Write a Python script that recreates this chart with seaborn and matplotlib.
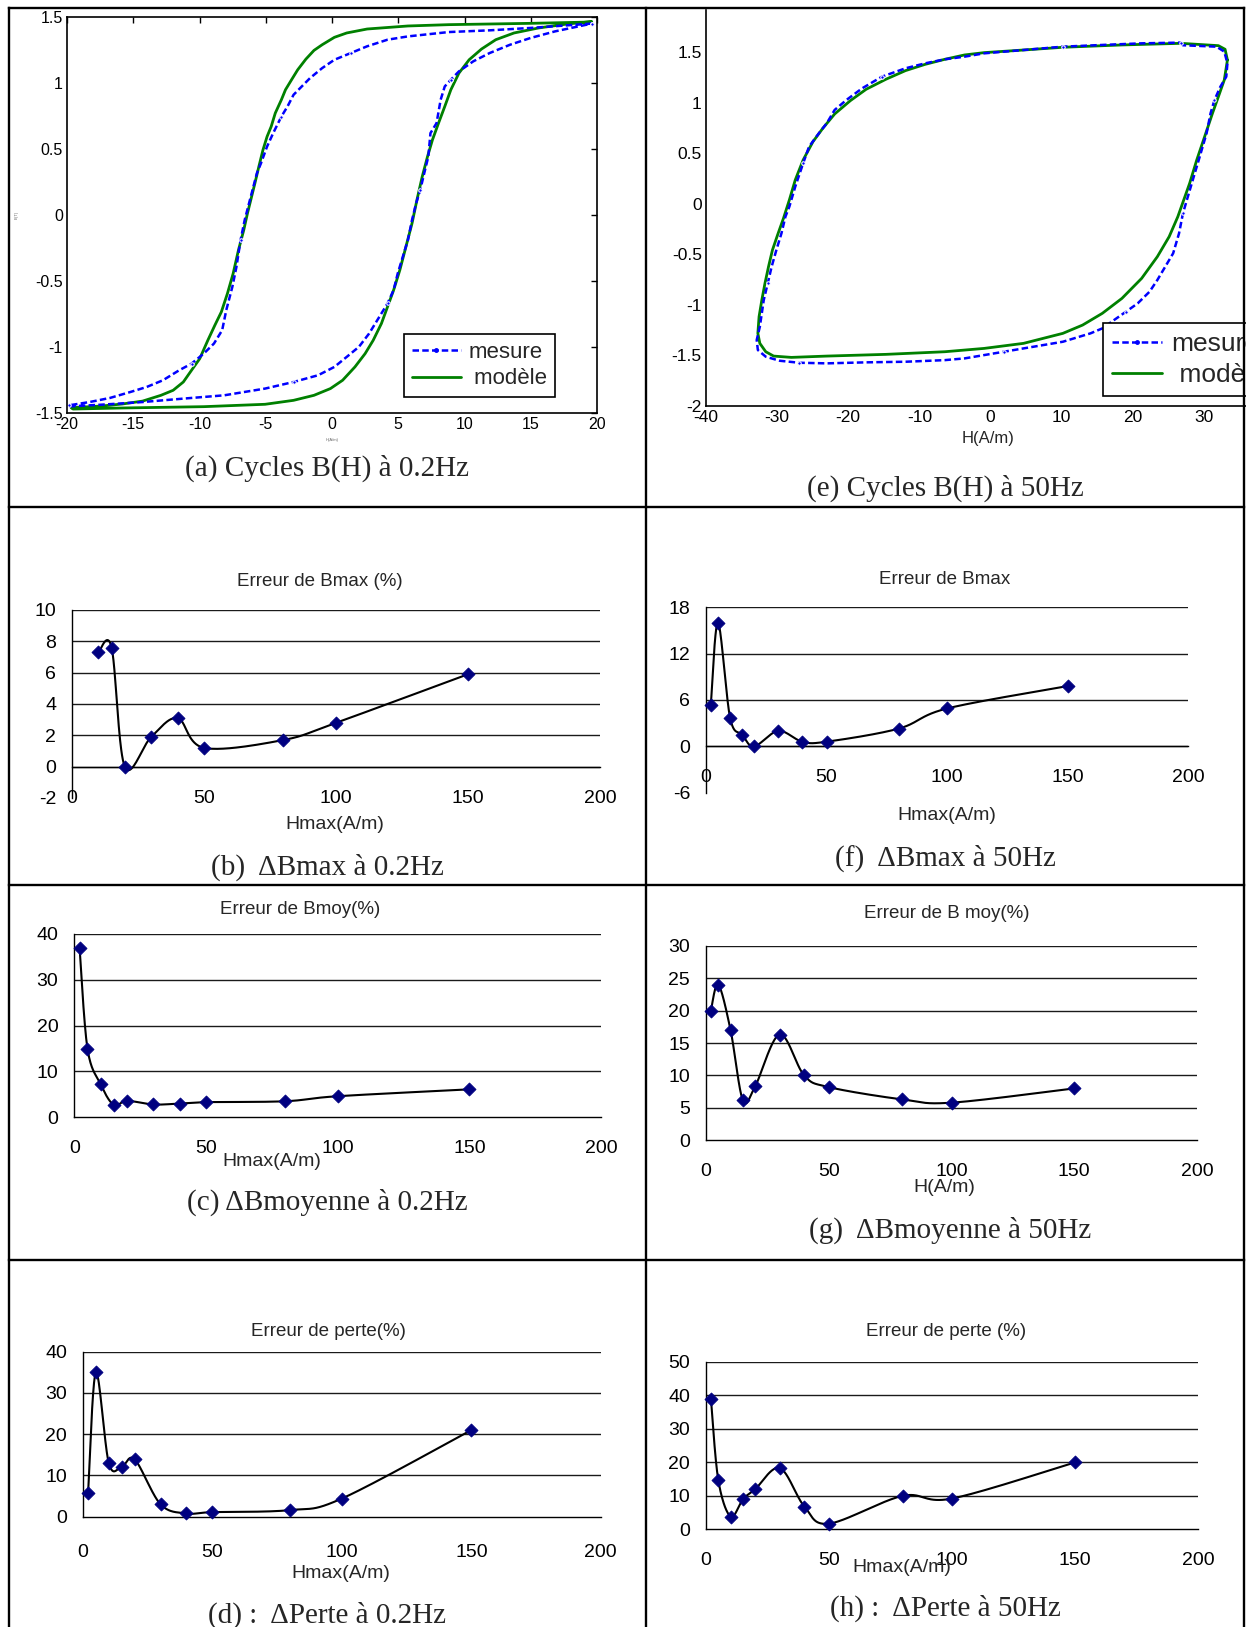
import numpy as np
import matplotlib
matplotlib.use("Agg")
import matplotlib.pyplot as plt
from matplotlib.lines import Line2D
import seaborn as sns

sns.set_style("white")
plt.rcParams["font.family"] = ["Liberation Sans", "DejaVu Sans"]
plt.rcParams["axes.unicode_minus"] = False

# ---------------------------------------------------------------- data
# (a) B(H) loops at 0.2 Hz : model (green) and measurement (blue)
A_MODEL_DESC_H = [19.60, 14.98, 8.81, 5.73, 2.65, 1.11, 0.18, -0.74, -1.36, -1.97, -2.59, -3.05,
                  -3.51, -3.82, -4.28, -4.59, -4.90, -5.21, -5.52, -5.82, -6.13, -6.38, -6.66,
                  -7.06, -7.46, -7.89, -8.35, -8.84, -9.37, -9.98, -10.60, -11.22, -11.99,
                  -12.91, -14.30, -15.84, -17.38, -19.69]
A_MODEL_DESC_B = [1.462, 1.452, 1.442, 1.432, 1.409, 1.379, 1.346, 1.290, 1.247, 1.181, 1.100,
                  1.025, 0.949, 0.873, 0.772, 0.670, 0.594, 0.493, 0.367, 0.240, 0.114, 0.013,
                  -0.114, -0.266, -0.443, -0.594, -0.734, -0.835, -0.949, -1.088, -1.176,
                  -1.265, -1.328, -1.366, -1.410, -1.432, -1.447, -1.460]
A_MODEL_ASC_H = [-19.54, -15.84, -9.68, -5.05, -2.90, -1.36, -0.12, 0.80, 1.73, 2.50, 3.11, 3.73,
                 4.19, 4.65, 5.12, 5.58, 6.04, 6.41, 6.81, 7.21, 7.58, 8.04, 8.51, 8.97, 9.58,
                 10.35, 11.28, 12.36, 13.74, 15.59, 17.75, 19.60]
A_MODEL_ASC_B = [-1.470, -1.462, -1.452, -1.434, -1.404, -1.366, -1.315, -1.252, -1.151, -1.050,
                 -0.949, -0.822, -0.696, -0.569, -0.417, -0.240, -0.063, 0.114, 0.291, 0.443,
                 0.569, 0.696, 0.822, 0.949, 1.075, 1.176, 1.257, 1.328, 1.379, 1.417, 1.447,
                 1.465]
A_MEAS_DESC_H = [19.60, 14.98, 11.90, 8.81, 5.73, 4.19, 2.65, 1.42, 0.18, -0.74, -1.66, -2.28,
                 -2.90, -3.36, -3.82, -4.44, -4.90, -5.36, -5.67, -6.13, -6.59, -6.90, -7.21,
                 -7.52, -7.98, -8.29, -8.91, -9.68, -10.60, -11.53, -12.76, -13.99, -15.22,
                 -16.76, -18.30, -19.85]
A_MEAS_DESC_B = [1.450, 1.417, 1.399, 1.386, 1.353, 1.328, 1.278, 1.227, 1.176, 1.113, 1.037,
                 0.974, 0.911, 0.822, 0.746, 0.620, 0.519, 0.392, 0.316, 0.139, -0.038, -0.190,
                 -0.392, -0.544, -0.721, -0.873, -0.974, -1.050, -1.126, -1.176, -1.252,
                 -1.303, -1.341, -1.386, -1.417, -1.442]
A_MEAS_ASC_H = [-19.85, -17.38, -14.30, -11.22, -8.14, -5.05, -2.90, -1.05, 0.18, 1.11, 2.03,
                2.80, 3.57, 4.19, 4.65, 4.96, 5.42, 5.73, 6.04, 6.35, 6.66, 6.96, 7.27, 7.43,
                7.89, 8.20, 8.51, 8.97, 9.58, 10.66, 11.90, 13.44, 14.98, 16.83, 19.60]
A_MEAS_ASC_B = [-1.450, -1.437, -1.417, -1.391, -1.366, -1.315, -1.265, -1.214, -1.151, -1.075,
                -0.999, -0.898, -0.772, -0.670, -0.569, -0.443, -0.291, -0.190, -0.038, 0.089,
                0.190, 0.316, 0.443, 0.620, 0.696, 0.873, 0.974, 1.025, 1.088, 1.164, 1.227,
                1.290, 1.341, 1.391, 1.450]

# (e) B(H) loops at 50 Hz
E_MODEL_H = [33.31, 32.98, 32.04, 26.78, 18.48, 10.18, 4.65, -0.89, -3.65, -6.42, -9.19, -11.95,
             -14.72, -17.49, -19.70, -21.91, -23.58, -24.96, -26.34, -27.45, -28.28, -29.11,
             -29.94, -30.66, -31.21, -31.71, -32.15, -32.54, -32.71, -32.43, -31.60, -30.49,
             -28.00, -23.02, -14.72, -6.42, -0.89, 4.65, 10.18, 12.95, 15.72, 18.48, 21.25,
             23.46, 25.12, 26.34, 27.17, 28.00, 29.00, 30.11, 31.21, 32.21, 32.87, 33.31]
E_MODEL_B = [1.424, 1.530, 1.566, 1.589, 1.573, 1.550, 1.523, 1.497, 1.474, 1.431, 1.381, 1.319,
             1.233, 1.134, 1.022, 0.890, 0.748, 0.616, 0.435, 0.237, 0.039, -0.143, -0.308,
             -0.457, -0.621, -0.786, -0.951, -1.116, -1.281, -1.380, -1.463, -1.506, -1.519,
             -1.506, -1.489, -1.463, -1.430, -1.380, -1.281, -1.199, -1.083, -0.935, -0.737,
             -0.522, -0.324, -0.126, 0.039, 0.204, 0.435, 0.666, 0.897, 1.095, 1.227, 1.424]
E_MEAS_H = [26.78, 27.06, 31.77, 32.87, 33.31, 33.15, 32.32, 31.49, 30.94, 30.38, 29.83, 29.28,
            28.44, 27.61, 27.06, 26.51, 25.68, 24.57, 23.46, 22.36, 20.70, 19.04, 17.38, 15.72,
            14.06, 10.18, 7.42, 4.65, 1.88, -0.89, -3.65, -6.42, -11.95, -17.49, -23.02,
            -26.90, -29.66, -31.60, -32.71, -32.87, -32.43, -31.88, -31.32, -30.77, -30.11,
            -29.39, -28.83, -28.28, -27.45, -26.34, -25.51, -24.13, -23.02, -21.91, -20.25,
            -18.04, -15.27, -11.95, -9.19, -6.42, -3.65, -0.89, 4.65, 10.18, 15.72, 21.25, 26.78]
E_MEAS_B = [1.596, 1.570, 1.556, 1.507, 1.391, 1.259, 1.160, 1.028, 0.897, 0.699, 0.567, 0.435,
            0.237, 0.039, -0.093, -0.291, -0.489, -0.621, -0.753, -0.869, -0.984, -1.067,
            -1.149, -1.232, -1.281, -1.364, -1.397, -1.430, -1.463, -1.496, -1.529, -1.546,
            -1.562, -1.568, -1.578, -1.572, -1.552, -1.512, -1.446, -1.347, -1.215, -0.951,
            -0.786, -0.621, -0.457, -0.291, -0.126, -0.027, 0.171, 0.402, 0.567, 0.699, 0.798,
            0.930, 1.029, 1.144, 1.259, 1.342, 1.391, 1.431, 1.457, 1.490, 1.523, 1.556, 1.573,
            1.589, 1.596]

A_XTICKS = [-20, -15, -10, -5, 0, 5, 10, 15, 20]
A_YTICKS = [-1.5, -1, -0.5, 0, 0.5, 1, 1.5]
A_YTICKLABELS = ["-1.5", "-1", "-0.5", "0", "0.5", "1", "1.5"]
E_XTICKS = [-40, -30, -20, -10, 0, 10, 20, 30, 40]
E_YTICKS = [-2, -1.5, -1, -0.5, 0, 0.5, 1, 1.5]
E_YTICKLABELS = ["-2", "-1.5", "-1", "-0.5", "0", "0.5", "1", "1.5"]

# error curves versus Hmax
H_B = [10, 15, 20, 30, 40, 50, 80, 100, 150]
ERR_B = [7.3, 7.6, 0.0, 1.9, 3.1, 1.2, 1.7, 2.8, 5.9]
H_F = [2, 5, 10, 15, 20, 30, 40, 50, 80, 100, 150]
ERR_F = [5.4, 16.0, 3.7, 1.5, 0.0, 2.0, 0.6, 0.6, 2.3, 4.9, 7.8]
H_C = [2, 5, 10, 15, 20, 30, 40, 50, 80, 100, 150]
ERR_C = [37.0, 15.0, 7.2, 2.7, 3.6, 2.8, 3.0, 3.3, 3.5, 4.6, 6.1]
H_G = [2, 5, 10, 15, 20, 30, 40, 50, 80, 100, 150]
ERR_G = [20.0, 24.0, 17.0, 6.2, 8.3, 16.3, 10.0, 8.2, 6.3, 5.8, 8.0]
H_D = [2, 5, 10, 15, 20, 30, 40, 50, 80, 100, 150]
ERR_D = [5.8, 35.0, 13.0, 12.1, 13.9, 3.0, 0.8, 1.1, 1.6, 4.4, 21.0]
H_H = [2, 5, 10, 15, 20, 30, 40, 50, 80, 100, 150]
ERR_H = [39.0, 14.7, 3.8, 9.0, 12.0, 18.3, 6.8, 1.7, 10.0, 9.2, 20.0]
ERR_XTICKS = [0, 50, 100, 150, 200]

# ---------------------------------------------------------------- layout helpers
W, H = 1246, 1627
fig = plt.figure(figsize=(W / 100, H / 100), dpi=100)
fig.patch.set_facecolor("white")


def box(l, t, r, b):
    return [l / W, 1 - b / H, (r - l) / W, (b - t) / H]


def ftext(x, y, s, **kw):
    fig.text(x / W, 1 - y / H, s, ha="center", va="center", **kw)


SERIF = ["Liberation Serif", "DejaVu Serif"]
BLUE = "#0000FF"
GREEN = "#008000"
NAVY = "#000080"
MEAS_STYLE = dict(color=BLUE, linewidth=1.8, linestyle=(0, (2.6, 1.3)), marker=".",
                  markersize=5, markevery=7)
MODEL_STYLE = dict(color=GREEN, linewidth=2.0)


def smooth(x, y, n=40):
    """Bezier smoothing through every point (spreadsheet 'smoothed line')."""
    p = np.column_stack([x, y]).astype(float)
    p = np.vstack([p[0], p, p[-1]])
    t = np.linspace(0, 1, n)[:, None]
    parts = []
    for i in range(1, len(p) - 2):
        p0, p1, p2, p3 = p[i - 1], p[i], p[i + 1], p[i + 2]
        c1 = p1 + (p2 - p0) / 6
        c2 = p2 - (p3 - p1) / 6
        seg = (1 - t) ** 3 * p1 + 3 * (1 - t) ** 2 * t * c1 + 3 * (1 - t) * t ** 2 * c2 + t ** 3 * p2
        parts.append(seg if i == 1 else seg[1:])
    s = np.vstack(parts)
    return s[:, 0], s[:, 1]


def legend(ax, x, y, size, hlen):
    handles = [Line2D([], [], **MEAS_STYLE), Line2D([], [], **MODEL_STYLE)]
    leg = ax.legend(handles, ["mesure", " modèle"], loc="upper left",
                    bbox_to_anchor=(x / W, 1 - y / H), bbox_transform=fig.transFigure,
                    fontsize=size, frameon=True, fancybox=False, framealpha=1,
                    edgecolor="black", handlelength=hlen, handletextpad=0.35,
                    borderpad=0.35, labelspacing=0.25, borderaxespad=0, numpoints=1)
    leg.get_frame().set_linewidth(1.2)


# ---------------------------------------------------------------- (a) loops at 0.2 Hz
ax = fig.add_axes(box(67, 17, 597, 413))
sns.lineplot(x=A_MODEL_DESC_H + A_MODEL_ASC_H, y=A_MODEL_DESC_B + A_MODEL_ASC_B,
             sort=False, estimator=None, ax=ax, **MODEL_STYLE)
sns.lineplot(x=A_MEAS_DESC_H + A_MEAS_ASC_H, y=A_MEAS_DESC_B + A_MEAS_ASC_B,
             sort=False, estimator=None, ax=ax, **MEAS_STYLE)
ax.set_xlim(-20, 20)
ax.set_ylim(-1.5, 1.5)
ax.set_xticks(A_XTICKS)
ax.set_xticklabels([str(v) for v in A_XTICKS])
ax.set_yticks(A_YTICKS)
ax.set_yticklabels(A_YTICKLABELS)
ax.tick_params(direction="in", top=True, right=True, length=4, width=1,
               labelsize=11.5, pad=3, colors="black")
for sp in ax.spines.values():
    sp.set_linewidth(1.2)
    sp.set_color("black")
ax.set_xlabel("H(A/m)", fontsize=3, color="0.4", labelpad=4)
ax.set_ylabel("B(T)", fontsize=3, color="0.4", labelpad=12)
legend(ax, 404, 334, 16, 2.2)
ftext(327, 468, "(a) Cycles B(H) à 0.2Hz", fontsize=21, family=SERIF)

# ---------------------------------------------------------------- (e) loops at 50 Hz
ax = fig.add_axes(box(706, 1.8, 1275, 406))
sns.lineplot(x=E_MODEL_H, y=E_MODEL_B, sort=False, estimator=None, ax=ax, **MODEL_STYLE)
sns.lineplot(x=E_MEAS_H, y=E_MEAS_B, sort=False, estimator=None, ax=ax, **MEAS_STYLE)
ax.set_xlim(-40, 40)
ax.set_ylim(-2, 2)
ax.set_xticks(E_XTICKS)
ax.set_xticklabels([str(v) for v in E_XTICKS])
ax.set_yticks(E_YTICKS)
ax.set_yticklabels(E_YTICKLABELS)
ax.tick_params(direction="in", length=4, width=1, labelsize=12.5, pad=3, colors="black")
ax.spines["top"].set_visible(False)
ax.spines["right"].set_visible(False)
for sp in ("left", "bottom"):
    ax.spines[sp].set_linewidth(1.2)
    ax.spines[sp].set_color("black")
ax.spines["left"].set_bounds(-2, 1.92)
legend(ax, 1103, 323, 19, 1.9)
ftext(988, 439, "H(A/m)", fontsize=12)
ftext(945, 488, "(e) Cycles B(H) à 50Hz", fontsize=21, family=SERIF)


# ---------------------------------------------------------------- error panels
def error_panel(rect, hx, err, ymin, ymax, ystep, xpad=12.5):
    ax = fig.add_axes(rect)
    xs, ys = smooth(hx, err)
    sns.lineplot(x=xs, y=ys, sort=False, estimator=None, ax=ax, color="black",
                 linewidth=1.5, zorder=3)
    sns.scatterplot(x=hx, y=err, marker="D", s=44, color=NAVY, edgecolor=NAVY,
                    linewidth=0.6, ax=ax, zorder=4, clip_on=False)
    ax.set_xlim(0, 200)
    ax.set_ylim(ymin, ymax)
    yt = np.arange(ymin, ymax + ystep / 2, ystep)
    ax.set_yticks(yt)
    ax.set_yticklabels([f"{v:g}" for v in yt])
    ax.set_xticks(ERR_XTICKS)
    ax.set_xticklabels([str(v) for v in ERR_XTICKS])
    for v in yt[1:]:
        ax.axhline(v, color="#1a1a1a", linewidth=1.0, zorder=1)
    ax.spines["top"].set_visible(False)
    ax.spines["right"].set_visible(False)
    ax.spines["bottom"].set_position(("data", 0))
    for sp in ("left", "bottom"):
        ax.spines[sp].set_linewidth(1.0)
        ax.spines[sp].set_color("black")
    ax.tick_params(direction="out", length=4, width=1, labelsize=14, colors="black")
    ax.tick_params(axis="y", pad=7.5)
    ax.tick_params(axis="x", pad=xpad)
    ax.set_facecolor("none")
    return ax


TITLE = 13.5
XLAB = 14
CAP = 21

error_panel(box(72, 610, 600, 798), H_B, ERR_B, -2, 10, 2)
ftext(320, 581, "Erreur de Bmax (%)", fontsize=TITLE)
ftext(335, 825, "Hmax(A/m)", fontsize=XLAB)
ftext(327, 867, "(b)  ΔBmax à 0.2Hz", fontsize=CAP, family=SERIF)

error_panel(box(706, 607.3, 1188, 792.7), H_F, ERR_F, -6, 18, 6)
ftext(945, 579, "Erreur de Bmax", fontsize=TITLE)
ftext(947, 815, "Hmax(A/m)", fontsize=XLAB)
ftext(945, 858, "(f)  ΔBmax à 50Hz", fontsize=CAP, family=SERIF)

error_panel(box(74.3, 934, 601, 1117.3), H_C, ERR_C, 0, 40, 10)
ftext(300, 909, "Erreur de Bmoy(%)", fontsize=TITLE)
ftext(272, 1161, "Hmax(A/m)", fontsize=XLAB)
ftext(327, 1202, "(c) ΔBmoyenne à 0.2Hz", fontsize=CAP, family=SERIF)

error_panel(box(706, 945.7, 1197, 1140.3), H_G, ERR_G, 0, 30, 5)
ftext(947, 913, "Erreur de B moy(%)", fontsize=TITLE)
ftext(944, 1188, "H(A/m)", fontsize=XLAB)
ftext(950, 1230, "(g)  ΔBmoyenne à 50Hz", fontsize=CAP, family=SERIF)

error_panel(box(82.9, 1351.7, 600.8, 1516.7), H_D, ERR_D, 0, 40, 10, xpad=15.5)
ftext(328, 1332, "Erreur de perte(%)", fontsize=TITLE)
ftext(341, 1573, "Hmax(A/m)", fontsize=XLAB)
ftext(327, 1615, "(d) :  ΔPerte à 0.2Hz", fontsize=CAP, family=SERIF)

error_panel(box(706, 1362, 1198, 1529.3), H_H, ERR_H, 0, 50, 10)
ftext(946, 1332, "Erreur de perte (%)", fontsize=TITLE)
ftext(902, 1568, "Hmax(A/m)", fontsize=XLAB)
ftext(945, 1608, "(h) :  ΔPerte à 50Hz", fontsize=CAP, family=SERIF)

# ---------------------------------------------------------------- table rules
def rule(x1, y1, x2, y2):
    fig.add_artist(Line2D([x1 / W, x2 / W], [1 - y1 / H, 1 - y2 / H], transform=fig.transFigure,
                          color="black", linewidth=1.7, zorder=10, solid_capstyle="projecting"))


rule(9, 8, 1244, 8)
rule(9, 8, 9, H)
rule(1244, 8, 1244, H)
rule(646, 8, 646, H)
for yline in (507, 885, 1260):
    rule(9, yline, 1244, yline)

fig.savefig("out.png", dpi=100, facecolor="white")
